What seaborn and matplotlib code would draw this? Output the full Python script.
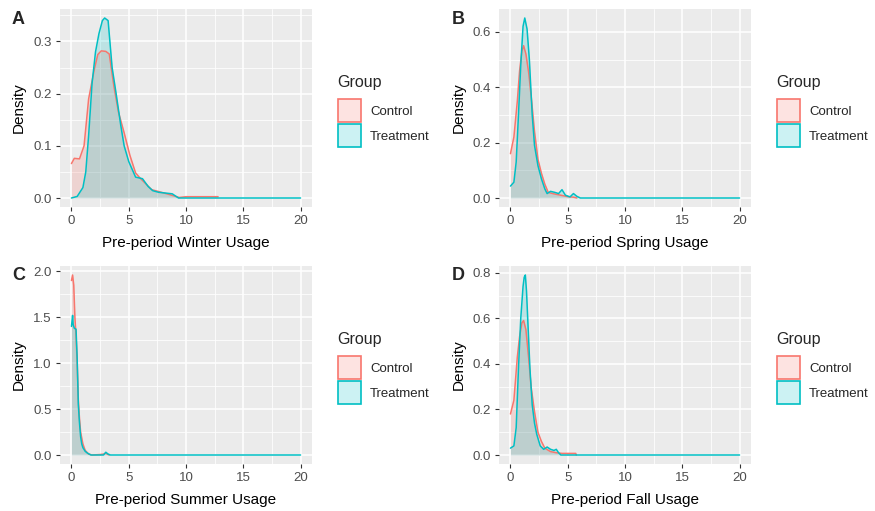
import pandas as pd
import matplotlib.pyplot as plt
import matplotlib.colors as mcolors
import seaborn as sns
from matplotlib.patches import Patch
from matplotlib.ticker import MultipleLocator, FormatStrFormatter

groups = ["Control", "Treatment"]
palette = {"Control": "#F8766D", "Treatment": "#00BFC4"}

# density curves (x = usage, y = density)
winter_control_x = [0, 0.25, 0.7, 1.1, 1.5, 2.0, 2.3, 2.6, 3.0, 3.3, 3.7, 4.1, 4.6, 5.1, 5.6, 6.0, 6.5, 7.0, 8.0, 8.8, 9.4, 10.0, 11.0, 12.0, 12.8]
winter_control_y = [0.066, 0.076, 0.075, 0.10, 0.19, 0.247, 0.275, 0.282, 0.281, 0.276, 0.215, 0.165, 0.125, 0.082, 0.048, 0.038, 0.027, 0.016, 0.010, 0.005, 0.001, 0.0025, 0.0025, 0.0025, 0.0025]
winter_treat_x = [0, 0.5, 1.0, 1.25, 1.5, 1.8, 2.1, 2.4, 2.7, 2.9, 3.2, 3.55, 3.9, 4.3, 4.6, 5.0, 5.6, 6.2, 6.7, 7.1, 7.6, 8.8, 9.35, 10.0, 20.0]
winter_treat_y = [0.0, 0.003, 0.02, 0.05, 0.12, 0.22, 0.28, 0.315, 0.34, 0.345, 0.34, 0.25, 0.20, 0.14, 0.10, 0.07, 0.04, 0.037, 0.022, 0.014, 0.011, 0.008, 0.0, 0.0, 0.0]

spring_control_x = [0, 0.3, 0.6, 0.8, 1.0, 1.15, 1.35, 1.6, 1.85, 2.1, 2.4, 2.7, 3.0, 3.3, 3.8, 4.4, 5.0, 5.5, 5.8]
spring_control_y = [0.16, 0.22, 0.35, 0.46, 0.53, 0.55, 0.52, 0.45, 0.35, 0.24, 0.14, 0.09, 0.05, 0.02, 0.015, 0.01, 0.005, 0.003, 0.0]
spring_treat_x = [0, 0.3, 0.5, 0.7, 0.9, 1.1, 1.25, 1.45, 1.65, 1.9, 2.1, 2.4, 2.7, 3.0, 3.2, 3.5, 3.9, 4.2, 4.5, 4.8, 5.2, 5.5, 5.8, 6.1, 20.0]
spring_treat_y = [0.043, 0.057, 0.13, 0.30, 0.48, 0.62, 0.65, 0.61, 0.50, 0.30, 0.19, 0.117, 0.07, 0.033, 0.016, 0.024, 0.02, 0.016, 0.03, 0.01, 0.004, 0.016, 0.006, 0.0, 0.0]

summer_control_x = [0, 0.1, 0.2, 0.3, 0.4, 0.5, 0.6, 0.7, 0.8, 1.0, 1.2, 1.5, 1.8, 2.5, 2.8, 3.0, 3.2, 3.3]
summer_control_y = [1.90, 1.96, 1.85, 1.50, 1.30, 1.00, 0.60, 0.40, 0.25, 0.12, 0.05, 0.01, 0.0, 0.005, 0.01, 0.02, 0.005, 0.0]
summer_treat_x = [0, 0.1, 0.15, 0.25, 0.4, 0.5, 0.6, 0.7, 0.8, 0.9, 1.0, 1.2, 1.4, 1.7, 2.8, 3.0, 3.2, 3.4, 20.0]
summer_treat_y = [1.40, 1.52, 1.42, 1.38, 1.37, 1.05, 0.55, 0.35, 0.20, 0.12, 0.08, 0.04, 0.02, 0.0, 0.0, 0.03, 0.01, 0.0, 0.0]

fall_control_x = [0, 0.3, 0.6, 0.8, 1.0, 1.15, 1.35, 1.6, 1.8, 2.1, 2.4, 2.7, 3.0, 3.5, 4.0, 4.5, 5.0, 5.7, 5.75]
fall_control_y = [0.18, 0.24, 0.43, 0.52, 0.58, 0.59, 0.55, 0.42, 0.30, 0.19, 0.10, 0.06, 0.03, 0.015, 0.01, 0.007, 0.007, 0.007, 0.0]
fall_treat_x = [0, 0.3, 0.5, 0.7, 0.9, 1.1, 1.2, 1.3, 1.4, 1.55, 1.7, 1.9, 2.1, 2.3, 2.6, 2.9, 3.2, 3.5, 3.8, 4.0, 4.2, 4.4, 20.0]
fall_treat_y = [0.03, 0.04, 0.12, 0.38, 0.60, 0.74, 0.78, 0.79, 0.72, 0.55, 0.38, 0.22, 0.14, 0.09, 0.04, 0.025, 0.035, 0.025, 0.02, 0.025, 0.01, 0.0, 0.0]

panels = [
    ("A", "Pre-period Winter Usage", winter_control_x, winter_control_y, winter_treat_x, winter_treat_y, 0.1),
    ("B", "Pre-period Spring Usage", spring_control_x, spring_control_y, spring_treat_x, spring_treat_y, 0.2),
    ("C", "Pre-period Summer Usage", summer_control_x, summer_control_y, summer_treat_x, summer_treat_y, 0.5),
    ("D", "Pre-period Fall Usage", fall_control_x, fall_control_y, fall_treat_x, fall_treat_y, 0.2),
]

sns.set_theme(style="darkgrid", rc={
    "axes.facecolor": "#EBEBEB",
    "grid.color": "white",
    "axes.edgecolor": "none",
    "xtick.bottom": True,
    "ytick.left": True,
    "xtick.color": "#333333",
    "ytick.color": "#333333",
    "xtick.major.size": 3,
    "ytick.major.size": 3,
    "xtick.major.width": 0.8,
    "ytick.major.width": 0.8,
})
plt.rcParams["font.family"] = ["Liberation Sans", "DejaVu Sans"]

fig = plt.figure(figsize=(8.75, 5.11), dpi=100)
W, H = 875, 511
# axes rectangles in pixels: left, top, right, bottom
rects = [(60, 9, 312, 207), (499, 9, 751, 207), (60, 266, 312, 464), (499, 266, 751, 464)]
letter_pos = [(12, 20), (452, 20), (12, 276), (452, 276)]

for (letter, xlabel, cx, cy, tx, ty, ystep), (l, t, r, b), (lx, ly) in zip(panels, rects, letter_pos):
    ax = fig.add_axes([l / W, 1 - b / H, (r - l) / W, (b - t) / H])
    rows = [{"x": a, "density": d, "Group": "Control"} for a, d in zip(cx, cy)]
    rows += [{"x": a, "density": d, "Group": "Treatment"} for a, d in zip(tx, ty)]
    df = pd.DataFrame(rows)
    for grp in groups:
        sub = df[df["Group"] == grp]
        ax.fill_between(sub["x"], sub["density"], color=palette[grp], alpha=0.2, lw=0)
        sns.lineplot(data=sub, x="x", y="density", color=palette[grp], lw=1.1,
                     sort=False, estimator=None, ax=ax)

    ymax = df["density"].max()
    ax.set_xlim(-1, 21)
    ax.set_ylim(-0.05 * ymax, 1.05 * ymax)
    ax.xaxis.set_major_locator(MultipleLocator(5))
    ax.xaxis.set_minor_locator(MultipleLocator(2.5))
    ax.yaxis.set_major_locator(MultipleLocator(ystep))
    ax.yaxis.set_minor_locator(MultipleLocator(ystep / 2))
    ax.yaxis.set_major_formatter(FormatStrFormatter("%.1f"))
    ax.grid(which="major", color="white", lw=1.1)
    ax.grid(which="minor", color="white", lw=0.55)
    ax.tick_params(axis="both", which="major", labelsize=9.5, labelcolor="#4D4D4D", pad=3)
    ax.tick_params(axis="both", which="minor", length=0)
    ax.set_xlabel(xlabel, fontsize=11, color="black", labelpad=6)
    ax.set_ylabel("Density", fontsize=11, color="black", labelpad=5)

    fig.text(lx / W, 1 - ly / H, letter, fontsize=13, fontweight="bold", va="center", ha="left")

    handles = [Patch(facecolor=(*mcolors.to_rgb(palette[g]), 0.2), edgecolor=palette[g], lw=1.2)
               for g in groups]
    leg = ax.legend(handles, groups, title="Group", loc="upper left",
                    bbox_to_anchor=((r + 19) / W, 1 - (t + 59) / H), bbox_transform=fig.transFigure,
                    frameon=False, fontsize=9.5, title_fontsize=11.5, handlelength=1.75, handleheight=2.3,
                    labelspacing=0.15, handletextpad=0.7, borderpad=0, alignment="left")
    leg._legend_box.sep = 7

fig.savefig("out.png", dpi=100)
